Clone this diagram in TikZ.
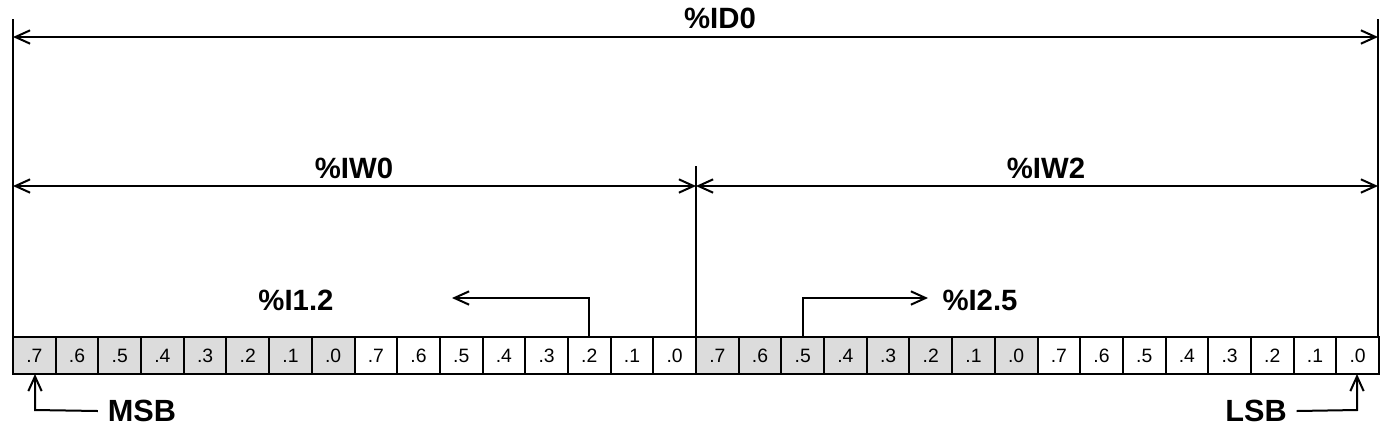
\documentclass[tikz,border=0pt]{standalone}
\usepackage{fontspec}
\setmainfont{Liberation Sans}
\usetikzlibrary{arrows.meta}
\definecolor{cellgray}{RGB}{220,220,220}
\begin{document}
\begin{tikzpicture}[x=0.75pt,y=-0.75pt,line width=1.5pt,
  cell/.style={draw=black,line width=1.5pt,minimum width=32.0156pt,minimum height=27.75pt,inner sep=0pt,outer sep=0pt,font=\fontsize{14.5}{16}\selectfont},
  graycell/.style={cell,fill=cellgray},
  whitecell/.style={cell,fill=white},
  biglabel/.style={font=\bfseries\fontsize{22}{24}\selectfont,inner sep=0pt},
  endlabel/.style={font=\bfseries\fontsize{23}{25}\selectfont,inner sep=0pt},
  tip/.style={-{Straight Barb[length=11pt,width=10pt,line width=1.5pt]}},
  dtip/.style={{Straight Barb[length=11pt,width=10pt,line width=1.5pt]}-{Straight Barb[length=11pt,width=10pt,line width=1.5pt]}}]
\useasboundingbox (0,0) rectangle (1392,430);
% cells
\foreach \i in {0,...,31}{
  \pgfmathtruncatemacro{\b}{7-mod(\i,8)}
  \pgfmathtruncatemacro{\byte}{int(\i/8)}
  \ifodd\byte
    \node[whitecell] (c\i) at ({13+(\i+0.5)*42.6875},355.5) {.\b};
  \else
    \node[graycell] (c\i) at ({13+(\i+0.5)*42.6875},355.5) {.\b};
  \fi
}
% boundary coordinates
\coordinate (Ltop) at (13,19);
\coordinate (Lbot) at (13,337);
\coordinate (Rtop) at (1378,19);
\coordinate (Rbot) at (1378,337);
\coordinate (Mtop) at (696,166);
\coordinate (Mbot) at (696,337);
\draw (Ltop) -- (Lbot);
\draw (Rtop) -- (Rbot);
\draw (Mtop) -- (Mbot);
% dimension arrows
\coordinate (idL) at (13,37);
\coordinate (idR) at (1378,37);
\coordinate (w0L) at (13,186);
\coordinate (w0R) at (696,186);
\coordinate (w2L) at (696,186);
\coordinate (w2R) at (1378,186);
\draw[dtip] (idL) -- (idR);
\draw[dtip] (w0L) -- (w0R);
\draw[dtip] (w2L) -- (w2R);
\node[biglabel] (id0) at (720,18) {\%ID0};
\node[biglabel] (iw0) at (354,168) {\%IW0};
\node[biglabel] (iw2) at (1046,168) {\%IW2};
% bit pointers
\node[biglabel] (i12) at (296,300) {\%I1.2};
\node[biglabel] (i25) at (980,300) {\%I2.5};
\coordinate (i12tip) at (452,298);
\coordinate (i25tip) at (928,298);
\draw[tip] (c13.north) |- (i12tip);
\draw[tip] (c18.north) |- (i25tip);
% MSB / LSB
\node[endlabel] (msb) at (142,411) {MSB};
\node[endlabel] (lsb) at (1256,411) {LSB};
\coordinate (msbturn) at (35,410);
\coordinate (lsbturn) at (1357,410);
\draw[tip] (msb.west) ++(-9,0) -- (msbturn) -- (c0.south -| msbturn);
\draw[tip] (lsb.east) ++(9,0) -- (lsbturn) -- (c31.south -| lsbturn);
\end{tikzpicture}
\end{document}
